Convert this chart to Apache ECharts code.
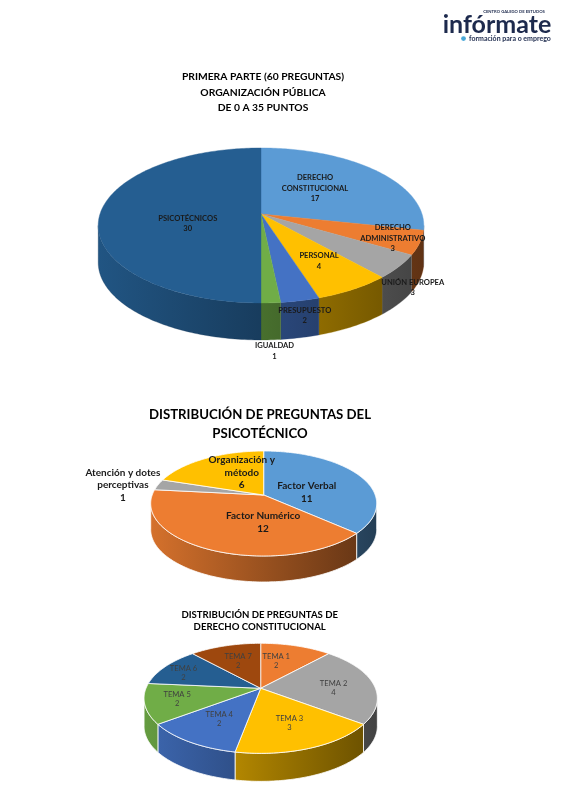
<!DOCTYPE html>
<html><head><meta charset="utf-8">
<script src="https://cdn.jsdelivr.net/npm/echarts@6/dist/echarts.min.js"></script>
<style>html,body{margin:0;padding:0;background:#fff}#c{width:565px;height:804px}</style>
</head><body><div id="c"></div>
<script>
// ---------------- DATA ----------------
const pie1Categories = ['DERECHO\nCONSTITUCIONAL', 'DERECHO\nADMINISTRATIVO', 'UNIÓN EUROPEA', 'PERSONAL', 'PRESUPUESTO', 'IGUALDAD', 'PSICOTÉCNICOS'];
const pie1Values = [17, 3, 3, 4, 2, 1, 30];
const pie2Categories = ['Factor Verbal', 'Factor Numérico', 'Atención y dotes\nperceptivas', 'Organización y\nmétodo'];
const pie2Values = [11, 12, 1, 6];
const pie3Categories = ['TEMA 1', 'TEMA 2', 'TEMA 3', 'TEMA 4', 'TEMA 5', 'TEMA 6', 'TEMA 7'];
const pie3Values = [2, 4, 3, 2, 2, 2, 2];
const chartTitles = [
  'PRIMERA PARTE (60 PREGUNTAS)\nORGANIZACIÓN PÚBLICA\nDE 0 A 35 PUNTOS',
  'DISTRIBUCIÓN DE PREGUNTAS DEL\nPSICOTÉCNICO',
  'DISTRIBUCIÓN DE PREGUNTAS DE\nDERECHO CONSTITUCIONAL'
];

// ---------------- STYLES ----------------
const PAL = {blue:'#5B9BD5', orange:'#ED7D31', gray:'#A5A5A5', gold:'#FFC000', blue2:'#4472C4', green:'#70AD47', navy:'#255E91', brown:'#9E480E'};
const pie1Colors = [PAL.blue, PAL.orange, PAL.gray, PAL.gold, PAL.blue2, PAL.green, PAL.navy];
const pie2Colors = [PAL.blue, PAL.orange, PAL.gray, PAL.gold];
const pie3Colors = [PAL.orange, PAL.gray, PAL.gold, PAL.blue2, PAL.green, PAL.navy, PAL.brown];

// ---------------- LAYOUT ----------------
const pies = [
  {cats: pie1Categories, vals: pie1Values, colors: pie1Colors,
   cx: 261, cy: 214, B: 161, A: 75.8, k: 0.148, depth: 37, border: null,
   font: {size: 7.6, weight: 'bold', color: '#1a1a1a', lh: 10.6},
   lr:  [0.45, 0.85, 1.09, 0.66, 1.10, 1.30, 0.455],
   ldx: [0, -2, 0, 0, 0, 0, 0],
   ldy: [-5, 0, 15.5, 0, 4.7, 15, 9.5]},
  {cats: pie2Categories, vals: pie2Values, colors: pie2Colors,
   cx: 263.7, cy: 495, B: 111.5, A: 51.1, k: 0.162, depth: 26, border: '#ffffff',
   font: {size: 10, weight: 'bold', color: '#1a1a1a', lh: 12.5},
   lr:  [0.435, 0.54, 1.35, 0.35],
   ldx: [0, 26, 0, 0],
   ldy: [6, 0, 4, -8.5]},
  {cats: pie3Categories, vals: pie3Values, colors: pie3Colors,
   cx: 260.7, cy: 688.3, B: 114.7, A: 53.2, k: 0.182, depth: 28, border: '#ffffff',
   font: {size: 7.6, weight: 'normal', color: '#404040', lh: 9.2},
   lr:  [0.6, 0.645, 0.62, 0.62, 0.73, 0.8, 0.6],
   ldx: [-7, 0, 0, 0, 0, 0, 0],
   ldy: [0, 3, 0, 0, 0, 2.5, 0]}
];
const titleLayout = [
  {x: 263, y: 92.5, size: 10.3, lh: 15.5},
  {x: 260, y: 424, size: 13.2, lh: 18.5},
  {x: 259.7, y: 621, size: 9.6, lh: 11.8}
];
const FONT = 'Lato, "Open Sans", sans-serif';

// ---------------- HELPERS ----------------
function shade(hex, f) {
  const n = parseInt(hex.slice(1), 16);
  const r = Math.round(((n >> 16) & 255) * f), g = Math.round(((n >> 8) & 255) * f), b = Math.round((n & 255) * f);
  return 'rgb(' + r + ',' + g + ',' + b + ')';
}
function proj(p, deg, r) {
  const t = deg * Math.PI / 180;
  const u = r * Math.sin(t), v = -r * Math.cos(t);
  const d = 1 - p.k * v;
  return [p.cx + p.B * u / d, p.cy + p.A * v / d];
}
pies.forEach(p => {
  p.total = p.vals.reduce((a, b) => a + b, 0);
  p.start = [];
  let acc = 0;
  p.vals.forEach(v => { p.start.push(acc / p.total * 360); acc += v; });
  const vis = Math.acos(-p.k) * 180 / Math.PI;
  p.vis0 = vis; p.vis1 = 360 - vis;
});

function sideRenderer(p) {
  return function (params, api) {
    const i = params.dataIndex;
    const a0 = p.start[i], a1 = a0 + api.value(0) / p.total * 360;
    const lo = Math.max(a0, p.vis0), hi = Math.min(a1, p.vis1);
    if (hi <= lo) return {type: 'group', children: []};
    const top = [], bot = [];
    const n = Math.max(2, Math.ceil((hi - lo) / 1));
    for (let s = 0; s <= n; s++) {
      const q = proj(p, lo + (hi - lo) * s / n, 1);
      top.push(q); bot.push([q[0], q[1] + p.depth]);
    }
    const pts = top.concat(bot.reverse());
    const c = p.colors[i];
    const grad = new echarts.graphic.LinearGradient(0, 0, 1, 0, [
      {offset: 0, color: shade(c, 0.9)},
      {offset: 0.55, color: shade(c, 0.62)},
      {offset: 1, color: shade(c, 0.4)}
    ]);
    grad.global = true;
    grad.x = p.cx - p.B * 1.02; grad.x2 = p.cx + p.B * 1.02; grad.y = 0; grad.y2 = 0;
    return {type: 'polygon', shape: {points: pts},
      style: {fill: grad, stroke: p.border || shade(c, 0.6), lineWidth: p.border ? 0.8 : 0.3}};
  };
}
function topRenderer(p) {
  return function (params, api) {
    const i = params.dataIndex;
    const a0 = p.start[i], a1 = a0 + api.value(0) / p.total * 360;
    const pts = [proj(p, 0, 0)];
    const n = Math.max(2, Math.ceil(a1 - a0));
    for (let s = 0; s <= n; s++) pts.push(proj(p, a0 + (a1 - a0) * s / n, 1));
    const c = p.colors[i];
    return {type: 'polygon', shape: {points: pts},
      style: {fill: c, stroke: p.border || c, lineWidth: p.border ? 0.8 : 0.4}};
  };
}
function labelRenderer(p) {
  return function (params, api) {
    const i = params.dataIndex;
    const a0 = p.start[i], a1 = a0 + api.value(0) / p.total * 360;
    const q = proj(p, (a0 + a1) / 2, p.lr[i]);
    return {type: 'text', x: q[0] + p.ldx[i], y: q[1] + p.ldy[i], z2: 50,
      style: {text: p.cats[i] + '\n' + api.value(0), fill: p.font.color, fontSize: p.font.size,
        fontWeight: p.font.weight, fontFamily: FONT, align: 'center', verticalAlign: 'middle', lineHeight: p.font.lh}};
  };
}

const series = [];
pies.forEach((p, idx) => {
  const data = p.vals.map((v, i) => ({name: p.cats[i], value: [v]}));
  series.push({type: 'custom', coordinateSystem: 'none', z: 1, silent: true, data: data, renderItem: sideRenderer(p), animation: false});
  series.push({type: 'custom', coordinateSystem: 'none', z: 2, silent: true, data: data, renderItem: topRenderer(p), animation: false});
  series.push({type: 'custom', coordinateSystem: 'none', z: 3, silent: true, data: data, renderItem: labelRenderer(p), animation: false});
});

const graphics = chartTitles.map((t, i) => ({
  type: 'text', x: titleLayout[i].x, y: titleLayout[i].y,
  style: {text: t, fill: '#000', fontSize: titleLayout[i].size, fontWeight: 'bold', fontFamily: FONT,
    align: 'center', verticalAlign: 'middle', lineHeight: titleLayout[i].lh}
}));
// logo
graphics.push(
  {type: 'text', x: 514, y: 11.5, style: {text: 'CENTRO GALEGO DE ESTUDOS', fill: '#1d2a4d', fontSize: 4.2, fontWeight: 'bold', fontFamily: FONT, align: 'center', verticalAlign: 'middle'}},
  {type: 'text', x: 497, y: 25, style: {text: 'infórmate', fill: '#1d2a4d', fontSize: 25, fontWeight: 'bold', fontFamily: FONT, align: 'center', verticalAlign: 'middle'}},
  {type: 'circle', shape: {cx: 463.5, cy: 38.6, r: 2.4}, style: {fill: '#4aa8d8'}},
  {type: 'text', x: 469, y: 38.6, style: {text: 'formación para o emprego', fill: '#1d2a4d', fontSize: 7, fontWeight: 'bold', fontFamily: FONT, align: 'left', verticalAlign: 'middle'}}
);

const chart = echarts.init(document.getElementById('c'), null, {renderer: 'canvas'});
chart.setOption({animation: false, backgroundColor: '#ffffff', series: series, graphic: graphics});
</script></body></html>
